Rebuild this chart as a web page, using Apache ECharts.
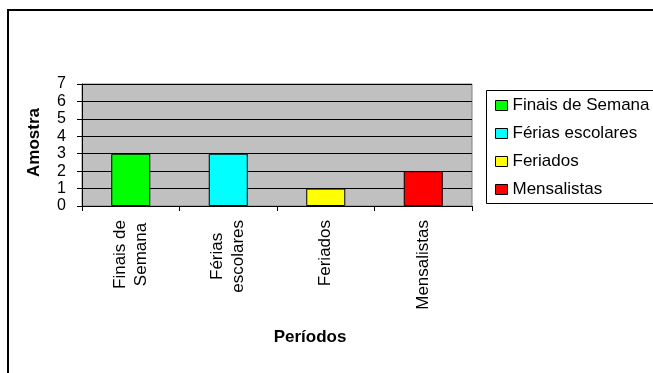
<!DOCTYPE html>
<html>
<head>
<meta charset="utf-8">
<title>Amostra por Períodos</title>
<script src="https://cdn.jsdelivr.net/npm/echarts@6/dist/echarts.min.js"></script>
<style>
  html, body { margin: 0; padding: 0; background: #fff; }
  #chart { width: 653px; height: 373px; }
</style>
</head>
<body>
<div id="chart"></div>
<script>
// Categories (legend names) and their axis labels
const categories = ['Finais de Semana', 'Férias escolares', 'Feriados', 'Mensalistas'];
const tickLabels = ['Finais de\nSemana', 'Férias\nescolares', 'Feriados', 'Mensalistas'];
// Sample count per period
const values = [3, 3, 1, 2];
// Bar fill per period
const colors = ['#00FF00', '#00FFFF', '#FFFF00', '#FF0000'];
// Y axis range
const yMin = 0, yMax = 7, yStep = 1;

const FONT = '"Liberation Sans", Arial, sans-serif';

// One stacked series per period so each gets its own legend entry
const series = categories.map((name, i) => ({
  name: name,
  type: 'bar',
  stack: 'total',
  barWidth: '40%',
  data: values.map((v, j) => (j === i ? v : '-')),
  itemStyle: { color: colors[i], borderColor: '#000', borderWidth: 1 }
}));

const chart = echarts.init(document.getElementById('chart'), null, { renderer: 'canvas' });
chart.setOption({
  animation: false,
  backgroundColor: '#fff',
  textStyle: { fontFamily: FONT },
  grid: {
    left: 82, top: 84, width: 390, height: 122,
    show: true, backgroundColor: '#C0C0C0', borderColor: '#808080', borderWidth: 1,
    containLabel: false, outerBoundsMode: 'none'
  },
  legend: {
    orient: 'vertical',
    left: 495, top: 97,
    padding: 0,
    itemWidth: 12, itemHeight: 10, itemGap: 11,
    icon: 'rect',
    itemStyle: { borderColor: '#000', borderWidth: 1 },
    textStyle: { fontSize: 17, color: '#000', fontFamily: FONT },
    data: categories
  },
  xAxis: {
    type: 'category',
    data: tickLabels,
    boundaryGap: true,
    axisLine: { show: true, lineStyle: { color: '#000', width: 1 } },
    axisTick: { show: true, length: 5, interval: 0, alignWithLabel: false, lineStyle: { color: '#000' } },
    axisLabel: {
      interval: 0, rotate: 90, margin: 14,
      fontSize: 17, lineHeight: 21, color: '#000', fontFamily: FONT,
      formatter: (v) => v.split('\n').map(s => '{c|' + s + '}').join('\n'),
      rich: { c: { align: 'center', fontSize: 17, lineHeight: 21, color: '#000', fontFamily: FONT } }
    },
    splitLine: { show: false }
  },
  yAxis: {
    type: 'value',
    min: yMin, max: yMax, interval: yStep,
    axisLine: { show: true, lineStyle: { color: '#000', width: 1 } },
    axisTick: { show: true, length: 5, lineStyle: { color: '#000' } },
    axisLabel: { fontSize: 16, color: '#000', margin: 16, fontFamily: FONT },
    splitLine: { show: true, lineStyle: { color: '#000', width: 1 } }
  },
  graphic: [
    // chart frame
    { type: 'rect', shape: { x: 8, y: 10, width: 700, height: 420 },
      style: { fill: 'none', stroke: '#000', lineWidth: 2 }, z: 100 },
    // legend frame
    { type: 'rect', shape: { x: 486.5, y: 90.5, width: 220, height: 113 },
      style: { fill: 'none', stroke: '#000', lineWidth: 1 }, z: 100 },
    // axis titles
    { type: 'text', x: 34.5, y: 142.5, rotation: Math.PI / 2,
      style: { text: 'Amostra', font: 'bold 17px ' + FONT, fill: '#000',
               align: 'center', verticalAlign: 'middle' } },
    { type: 'text', x: 310, y: 337.5,
      style: { text: 'Períodos', font: 'bold 17px ' + FONT, fill: '#000',
               align: 'center', verticalAlign: 'middle' } }
  ],
  series: series
});
</script>
</body>
</html>
